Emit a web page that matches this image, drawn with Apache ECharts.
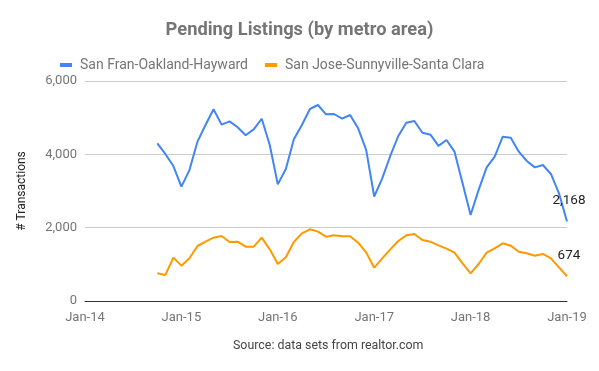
<!DOCTYPE html>
<html><head><meta charset="utf-8">
<script src="https://cdn.jsdelivr.net/npm/echarts@6/dist/echarts.min.js"></script>
<style>html,body{margin:0;padding:0;background:#fff}#c{width:599px;height:371px}</style>
</head><body><div id="c"></div>
<script>
// months (YYYY-MM), Oct-2014 .. Jan-2019
var months = [];
(function(){ for (var y=2014,m=10; y<2019 || (y===2019 && m<=1); ) { months.push(y+'-'+(m<10?'0':'')+m); m++; if(m>12){m=1;y++;} } })();
var sanFran = [4300,4010,3680,3120,3570,4345,4800,5230,4810,4900,4740,4520,4680,4970,4255,3180,3600,4410,4800,5236,5345,5090,5100,4973,5073,4710,4120,2850,3345,3955,4500,4864,4910,4590,4536,4230,4390,4073,3210,2345,3030,3645,3940,4482,4455,4073,3818,3645,3709,3464,2936,2168];
var sanJose = [755,709,1182,964,1164,1500,1618,1727,1773,1609,1618,1482,1482,1727,1409,1009,1191,1609,1845,1955,1891,1755,1791,1764,1764,1591,1327,909,1164,1409,1636,1791,1827,1664,1618,1518,1430,1318,1027,755,1009,1318,1436,1573,1509,1345,1300,1236,1282,1164,918,674];
var xTicks = ['Jan-14','Jan-15','Jan-16','Jan-17','Jan-18','Jan-19'];
var yTicks = [0,2000,4000,6000];

function monthIndex(s){ var p=s.split('-'); return (parseInt(p[0])-2014)*12 + parseInt(p[1])-1; }
function toData(vals){
  return vals.map(function(v,i){
    var d = {value:[monthIndex(months[i]), v]};
    if (i === vals.length-1) d.label = {show:true, position:'top', distance:14, offset:[2,0], formatter:function(p){return p.value[1].toLocaleString('en-US');}, color:'#222', fontSize:13.5, fontFamily:'Roboto'};
    return d;
  });
}
var chart = echarts.init(document.getElementById('c'));
chart.setOption({
  animation:false,
  textStyle:{fontFamily:'Roboto'},
  title:{text:'Pending Listings (by metro area)', left:'center', top:16, textStyle:{fontSize:18.3, fontWeight:'bold', color:'#757575', fontFamily:'Roboto'}},
  legend:{top:53, left:55, icon:'rect', itemWidth:12, itemHeight:4, itemGap:17,
    textStyle:{fontSize:14, color:'#757575', fontFamily:'Roboto', padding:[0,0,0,3]},
    data:['San Fran-Oakland-Hayward','San Jose-Sunnyville-Santa Clara']},
  grid:{left:85, right:32, top:81, bottom:70},
  xAxis:{type:'value', min:0, max:60, interval:12,
    axisLine:{show:true, onZero:false, lineStyle:{color:'#333'}}, axisTick:{show:false}, splitLine:{show:false},
    axisLabel:{color:'#757575', fontSize:13, margin:10, formatter:function(v){return xTicks[v/12];}}},
  yAxis:{type:'value', min:yTicks[0], max:yTicks[yTicks.length-1], interval:2000,
    name:'# Transactions', nameLocation:'middle', nameGap:57, nameTextStyle:{color:'#222', fontSize:12},
    axisLine:{show:false}, axisTick:{show:false},
    splitLine:{lineStyle:{color:'#cccccc'}},
    axisLabel:{color:'#757575', fontSize:13, margin:8, formatter:function(v){return v.toLocaleString('en-US');}}},
  graphic:[{type:'text', left:233, top:340, style:{text:'Source: data sets from realtor.com', fill:'#444', font:'12.4px Roboto'}}],
  series:[
    {name:'San Fran-Oakland-Hayward', type:'line', data:toData(sanFran), showSymbol:true, symbol:'circle', symbolSize:0.1, color:'#4285F4', lineStyle:{width:2}},
    {name:'San Jose-Sunnyville-Santa Clara', type:'line', data:toData(sanJose), showSymbol:true, symbol:'circle', symbolSize:0.1, color:'#FF9900', lineStyle:{width:2}}
  ]
});
</script></body></html>
